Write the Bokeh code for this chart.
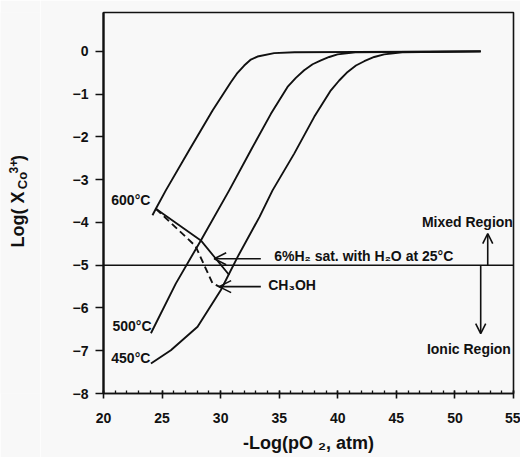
import math

from bokeh.core.properties import value
from bokeh.embed import file_html
from bokeh.layouts import row
from bokeh.models import (Arrow, FixedTicker, OpenHead, Range1d, Span)
from bokeh.plotting import figure
from bokeh.resources import INLINE

# Co3+ fraction vs. oxygen partial pressure at three temperatures
temp_labels = ["600°C", "500°C", "450°C"]

neg_log_po2_600 = [24.18, 24.47, 25.32, 27.31, 29.31, 30.87, 31.44, 32.01, 32.58, 33.15,
                   34.57, 36.3, 52.2]
log_x_600 = [-3.83, -3.68, -3.25, -2.31, -1.38, -0.72, -0.50, -0.33, -0.19, -0.12,
             -0.04, -0.02, 0.0]

neg_log_po2_500 = [24.05, 26.17, 28.31, 30.73, 32.58, 34.29, 35.71, 36.42, 37.13, 37.85,
                   38.56, 39.27, 39.98, 41.5, 52.2]
log_x_500 = [-6.59, -5.43, -4.42, -3.25, -2.31, -1.46, -0.83, -0.62, -0.44, -0.30,
             -0.21, -0.13, -0.07, -0.02, 0.0]

neg_log_po2_450 = [24.05, 25.75, 28.03, 30.02, 31.44, 33.32, 34.43, 36.28, 37.99, 39.41,
                   40.12, 40.84, 41.55, 42.26, 43.11, 43.96, 45.5, 52.2]
log_x_450 = [-7.30, -6.99, -6.44, -5.58, -4.81, -3.87, -3.25, -2.39, -1.53, -0.91,
             -0.68, -0.48, -0.33, -0.23, -0.13, -0.07, -0.02, 0.0]

# operating points for the two reducing atmospheres
h2_path_x = [24.47, 28.31, 30.73]
h2_path_y = [-3.68, -4.42, -5.23]
ch3oh_path_x = [24.47, 27.85, 29.3, 30.0]
ch3oh_path_y = [-3.68, -4.55, -5.42, -5.52]

# boundary between mixed and ionic conduction
region_boundary = -5.0

x_ticks = [20, 25, 30, 35, 40, 45, 50, 55]
y_ticks = [0, -1, -2, -3, -4, -5, -6, -7, -8]

FONT = "Liberation Sans"
BG = "#f8f8f8"
INK = "#111111"
W, H = 520, 457
TITLE_W = 40  # strip holding the vertical axis title

# ---- main plot -------------------------------------------------------------
p = figure(width=W - TITLE_W, height=H, output_backend="svg", toolbar_location=None,
           x_range=Range1d(20, 55), y_range=Range1d(-8, 0.91),
           min_border_left=103 - TITLE_W, min_border_right=7, min_border_top=12,
           min_border_bottom=64, background_fill_color=BG, border_fill_color=BG)
p.grid.visible = False
p.outline_line_color = INK
p.outline_line_width = 1.6

p.xaxis.ticker = FixedTicker(ticks=x_ticks, minor_ticks=list(range(20, 56)))
p.yaxis.ticker = FixedTicker(ticks=y_ticks)
for ax in (p.xaxis[0], p.yaxis[0]):
    ax.axis_line_color = INK
    ax.major_tick_line_color = INK
    ax.major_tick_line_width = 1.6
    ax.major_label_text_font = FONT
    ax.major_label_text_font_style = "bold"
    ax.major_label_text_font_size = "14px"
    ax.major_label_text_color = INK
p.yaxis.axis_line_width = 2.2
p.xaxis.axis_line_width = 1.6
p.yaxis.minor_tick_line_color = None
p.yaxis.major_tick_in = 0
p.yaxis.major_tick_out = 8
p.yaxis.major_label_standoff = 7
p.xaxis.major_tick_in = 3
p.xaxis.major_tick_out = 5
p.xaxis.minor_tick_in = 3
p.xaxis.minor_tick_out = 0
p.xaxis.minor_tick_line_color = INK
p.xaxis.minor_tick_line_width = 1.3
p.xaxis.major_label_standoff = 14

p.xaxis.axis_label = "-Log(pO \u2082, atm)"
p.xaxis.axis_label_text_font = FONT
p.xaxis.axis_label_text_font_style = "bold"
p.xaxis.axis_label_text_font_size = "18px"
p.xaxis.axis_label_text_color = INK
p.xaxis.axis_label_standoff = 7

# curves
for xs, ys in ((neg_log_po2_600, log_x_600), (neg_log_po2_500, log_x_500),
               (neg_log_po2_450, log_x_450)):
    p.line(xs, ys, line_color=INK, line_width=1.9, line_join="round")

p.add_layout(Span(location=region_boundary, dimension="width", line_color=INK, line_width=1.6))

p.line(h2_path_x, h2_path_y, line_color=INK, line_width=1.8)
p.line(ch3oh_path_x, ch3oh_path_y, line_color=INK, line_width=1.9, line_dash="7 4")

# temperature labels at the start of each curve
starts_y = [log_x_600[0], log_x_500[0], log_x_450[0]]
p.text(x=[24.0, 24.1, 24.0], y=[y + dy for y, dy in zip(starts_y, [0.35, 0.17, 0.12])],
       text=temp_labels, text_font=value(FONT), text_font_style="bold",
       text_font_size="14px", text_color=INK, text_align="right", text_baseline="middle")

# atmosphere annotations
arrow_kw = dict(line_color=INK, line_width=1.6)
p.add_layout(Arrow(end=OpenHead(size=12, line_color=INK, line_width=1.6),
                   x_start=33.43, y_start=-4.85, x_end=29.45, y_end=-4.85, **arrow_kw))
p.add_layout(Arrow(end=OpenHead(size=12, line_color=INK, line_width=1.6),
                   x_start=33.43, y_start=-5.5, x_end=29.87, y_end=-5.5, **arrow_kw))
p.text(x=[34.57, 34.06], y=[-4.79, -5.47],
       text=["6%H\u2082 sat. with H\u2082O at 25°C", "CH\u2083OH"],
       text_font=value(FONT), text_font_style="bold", text_font_size="14px",
       text_color=INK, text_align="left", text_baseline="middle")

# region arrows and labels
p.add_layout(Arrow(end=OpenHead(size=10, line_color=INK, line_width=1.6),
                   x_start=52.8, y_start=region_boundary, x_end=52.8, y_end=-4.26, **arrow_kw))
p.add_layout(Arrow(end=OpenHead(size=10, line_color=INK, line_width=1.6),
                   x_start=52.2, y_start=region_boundary, x_end=52.2, y_end=-6.6, **arrow_kw))
p.text(x=[54.95, 54.78], y=[-4.0, -6.95], text=["Mixed Region", "Ionic Region"],
       text_font=value(FONT), text_font_style="bold", text_font_size="14px",
       text_color=INK, text_align="right", text_baseline="middle")

# ---- vertical axis title: Log( X_Co^3+ ) --------------------------------------
t = figure(width=TITLE_W, height=H, output_backend="svg", toolbar_location=None,
           x_range=Range1d(0, TITLE_W), y_range=Range1d(0, H),
           x_axis_location=None, y_axis_location=None,
           min_border_left=0, min_border_right=0, min_border_top=0, min_border_bottom=0,
           background_fill_color=BG, border_fill_color=BG, outline_line_color=None)
t.grid.visible = False
title_parts = ["Log( X", "Co", "3+", ")"]
title_sizes = ["18px", "13px", "12px", "18px"]
for text, size, px, py in zip(title_parts, title_sizes, [17, 22, 13, 17],
                              [175, 245, 264, 279]):
    t.text(x=[px], y=[py], text=[text], angle=math.pi / 2, text_font=value(FONT),
           text_font_style="bold", text_font_size=size, text_color=INK,
           text_align="left", text_baseline="middle")

layout = row(t, p, spacing=0)
open("out.html", "w").write(file_html(layout, INLINE))
